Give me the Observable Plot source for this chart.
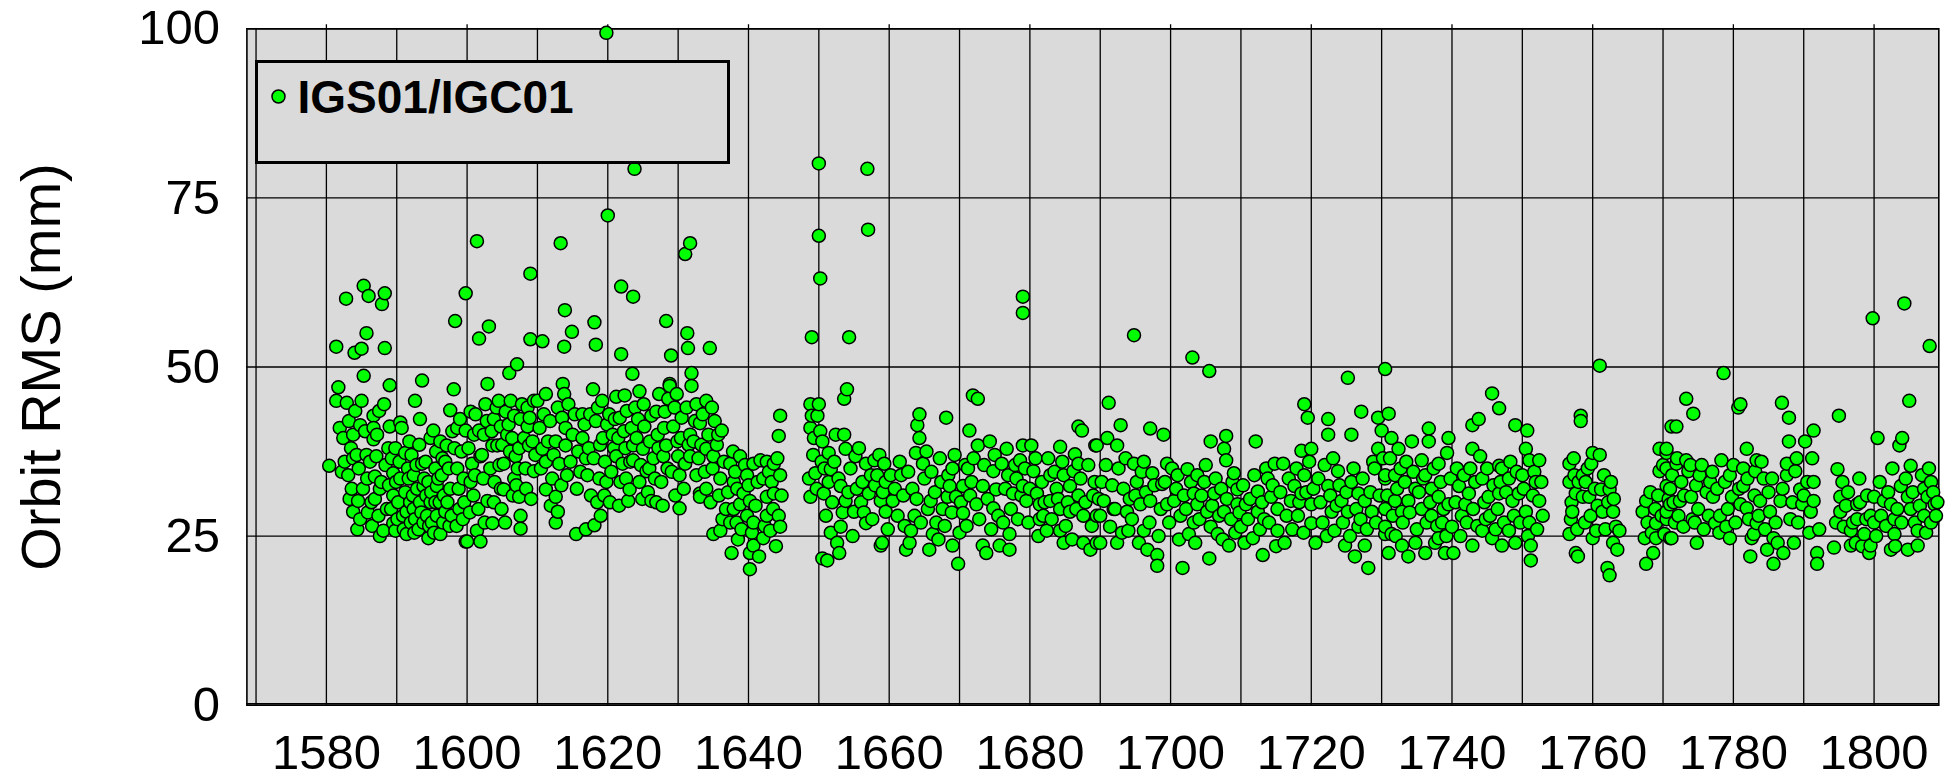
<!DOCTYPE html>
<html>
<head>
<meta charset="utf-8">
<script src="https://cdn.jsdelivr.net/npm/d3@7"></script>
<script src="https://cdn.jsdelivr.net/npm/@observablehq/plot@0.6"></script>
<style>
  html, body { margin: 0; padding: 0; background: #fff; }
  #wrap { position: relative; width: 1955px; height: 780px; }
  #wrap svg { display: block; }
  #legend { position: absolute; left: 255px; top: 60px; width: 475px; height: 104px; box-sizing: border-box;
            border: 3.5px solid #000; background: #dadada; }
  #legend svg { position: absolute; left: 0; top: 0; }
</style>
</head>
<body>
<div id="wrap"></div>
<script>
// ---- tick / grid values ----
const xTicks = [1580, 1600, 1620, 1640, 1660, 1680, 1700, 1720, 1740, 1760, 1780, 1800];
const gridWeeks = [1570, 1580, 1590, 1600, 1610, 1620, 1630, 1640, 1650, 1660, 1670, 1680, 1690, 1700,
                   1710, 1720, 1730, 1740, 1750, 1760, 1770, 1780, 1790, 1800];
const yTicks = [0, 25, 50, 75, 100];
const seriesName = "IGS01/IGC01";
const yLabel = "Orbit RMS (mm)";

// ---- data: [GPS week, orbit RMS (mm)] ----
const rms1580 = [[1580.4,35.4],[1581.4,53],[1581.7,47],[1581.4,45],[1581.9,41],
[1582.8,60.1],[1582.9,44.7],[1582.4,39.5],[1582.6,36],[1582.2,34.5],
[1583.8,40],[1583.8,36.5],[1583.1,34],[1583.3,30.5],[1583.8,28.6],[1584,52.1],
[1585,52.7],[1584.5,30.2],[1584.8,27.5],[1584.8,41.4],[1585,45],[1584.3,37],
[1585.3,62],[1586,60.5],[1585.7,55],[1585.3,48.7],[1585.7,37],[1585.2,32],
[1586.7,42.8],[1586.7,41],[1586.7,39.3],[1586.9,33.8],[1586.4,30],
[1587.9,59.3],[1587.1,36.8],[1587.4,28],[1587.6,25],[1587.6,32],
[1588.3,60.9],[1588.3,52.8],[1589,47.3],[1589,41.2],[1588.6,29],[1588.1,25.8],
[1589.5,34.3],[1589.5,26.9],[1589.8,25.8],[1589.5,31],[1589.8,38],
[1590.7,41],[1591.2,37.3],[1590.5,33.5],[1590.2,30],[1591,26],[1590.5,41.8],
[1592.1,37],[1591.4,25.3],[1591.7,33.5],[1591.9,30],[1591.4,28.6],
[1592.6,45],[1592.4,34],[1592.9,32],[1592.6,27.5],[1592.4,29],
[1593.6,48],[1593.3,42.3],[1593.6,35.7],[1593.8,32.4],[1593.3,30],[1593.8,27],
[1594.5,24.7],[1594.8,39.5],[1594.5,33],[1594.8,30],[1594.3,28],
[1595.2,40.6],[1595.5,35],[1595.7,32.4],[1595.7,28],[1595.5,30],
[1596.2,39],[1596.2,25.3],[1596.9,28.6],[1596.4,34],[1596.7,31],
[1597.1,38.4],[1597.6,43.6],[1597.4,35],[1597.6,32],
[1598.1,46.7],[1598.3,56.8],[1598.6,41],[1598.6,35],[1598.8,32],
[1599.8,60.9],[1599,42.3],[1599.8,40.6],[1599.5,33.5],[1599.8,24.2],
[1600,24.2],[1600.5,43.4],[1601,40],[1600.7,35.7],[1600.5,33],
[1601.4,68.6],[1601.7,54.2],[1601.9,24.2],[1601.4,25.8],[1601.7,40.6],[1601.9,36.8],
[1602.9,47.5],[1602.9,30.2],[1602.4,40],[1602.6,44.5],[1602.1,37],
[1603.1,56],[1603.6,26.9],[1603.8,42.3],[1603.6,38.4],[1603.8,30],
[1604.5,45],[1604.8,41.2],[1604.3,38.4],[1604.8,32],
[1606,49.1],[1605.2,31.9],[1605.5,43.4],[1605.7,40],[1605.2,35.7],
[1606.7,42.8],[1606.4,39.5],[1606.9,36.8],[1606.7,33.5],
[1607.1,50.4],[1607.4,30.8],[1607.6,28],[1607.6,26.1],[1607.6,42.3],[1607.4,38],
[1608.6,41.2],[1608.8,38.4],[1608.3,35],[1608.6,44],
[1609,63.8],[1609,54.1],[1609.5,45],[1609.3,39],[1609.5,34.6],
[1583.2,42],[1584.1,43.5],[1585.5,40.5],[1586.2,36],[1587.2,40],[1587.8,33],[1588.4,35.5],[1588.8,38],[1583.5,38],[1584.6,35],[1585.8,33.5],[1586.9,30.5],[1588.9,32.5],[1589.2,29],[1589.9,33],[1590.4,36],[1590.9,28],[1591.2,31.5],[1591.6,35],[1592,27],[1592.3,31],[1592.8,35.5],[1593.1,26],[1593.5,28.5],[1593.9,33.5],[1594.1,36],[1594.6,26.5],[1594.9,31.5],[1595.3,25.5],[1595.9,33.5],[1596.1,30],[1596.6,27],[1596.9,36],[1597.2,30],[1597.5,26.5],[1597.9,40.5],[1598.2,38],[1598.9,29],[1599.2,37.5],[1599.6,30],[1600.2,38],[1600.9,31],[1601.2,43],[1601.6,29],[1602.3,33.5],[1602.8,42],[1603.3,35],[1603.9,33],[1604.2,44],[1604.6,35.5],[1605,38.5],[1605.9,41.5],[1606.2,45],[1606.5,31],[1607.2,35],[1607.8,44.5],[1608.1,39.5],[1608.9,42.5],[1609.7,37],
[1583.6,32],[1584.4,26],[1585.9,28.5],[1586.5,26.5],[1587.5,43.5],[1588.2,44.5],[1589.3,36.5],[1590.1,27.5],[1591.8,39],[1592.5,25.5],[1593.2,38.5],[1594.2,31],[1595,27],[1595.6,37.5],[1596.5,36.5],[1597.8,28],[1598.5,26.5],[1599.4,27.5],[1600.4,28.5],[1601.1,34],[1602.5,27],[1603.5,40.5],[1604.9,29],[1605.4,27],[1606.1,37.5],[1607,32.5],[1608.4,32],[1609.1,30.5]];

const rms1610 = [[1619.8,99.4],[1623.8,79.3],[1620,72.4],[1613.3,68.3],[1631.7,68.3],[1631,66.7],
[1621.9,61.9],[1623.6,60.4],[1613.9,58.4],[1618.1,56.6],[1614.9,55.2],[1613.8,53],[1618.3,53.3],[1621.9,51.9],[1610.7,53.8],
[1628.3,56.8],[1631.3,55],[1631.4,52.8],[1629,51.7],[1634.5,52.8],
[1623.5,49],[1631.9,49.1],[1631.9,47.2],[1628.8,47.5],
[1610,45],[1611.2,46],[1613.6,47.5],[1613.8,46],[1612.9,44],[1617.9,46.7],[1616.4,43],[1618.6,44],[1618.3,42],[1614,41],[1615,40],[1616.4,39.5],[1619.3,39.5],[1610.7,37.9],[1612.6,39],[1614,38.4],[1613.1,35.7],[1611.2,36],[1612.1,33.5],[1611.2,31.9],[1612.6,30.8],[1612.9,28.6],[1612.6,27],[1617.1,34],[1618.8,33.5],[1619.8,33],[1619.5,31],[1615.5,25.3],[1616.9,26],[1618.1,26.6],[1619,28],
[1621.2,45.6],[1622.4,45.8],[1624.5,46.4],[1621,42.3],[1621.7,42.5],[1624.3,42.3],[1620.7,40],[1623.6,38.4],[1625.2,41.2],[1626,39],[1626.2,42.8],[1626.9,43.4],[1627.1,40],[1621.2,36.8],[1622.1,35.7],[1623.6,36.2],[1625,37.9],[1622.6,33.5],[1623.1,31.9],[1622.9,30.2],[1625.5,34.6],[1626.2,30.2],[1626.9,30],[1624.5,33],[1627.9,36.8],[1628.3,38.4],[1628.6,45.3],[1628.1,43.4],[1628.8,47.2],[1629.8,46],[1629.3,41.2],[1630,36.8],[1630.2,34],[1630.2,29.1],
[1632.6,44.5],[1634,45],[1634.8,44],[1635.2,42],[1636.2,40.6],[1633.1,41.7],[1631.7,40],[1631,35.7],[1631.7,36.8],[1632.6,34],[1634,37.9],[1635,36.8],[1636,33.5],[1633.1,31.3],[1633.1,30.8],[1634,32],[1637.4,35.7],[1638.8,36.8],[1637.9,33],[1639.8,34],[1639.3,31.3],[1640.7,35.7],[1641.7,36.2],[1642.6,36],[1643.6,35.7],[1644.5,34],[1642.1,33.5],[1643.3,33],[1635,25.3],[1636,25.8],[1637.4,27],[1638.3,27],[1639.8,28],[1640.7,27],[1642.6,28],[1644.3,28],[1637.9,29],[1638.8,29.7],[1640.2,30.2],[1642.6,30.8],[1643.6,31.3],[1637.6,22.5],[1640.2,22.5],[1640.7,23.6],[1640.2,20.1],[1642.1,24.7],[1643.1,25.8],[1644.5,26.4],[1644.5,42.8],[1644.3,39.8],
[1648.8,44.5],[1649,42.8],[1648.8,41],[1649.3,39.5],[1648.6,33.5],[1649.5,34.3],[1648.8,30.8],[1649,54.4],[1650,80.1],[1650,69.4],[1650.2,63.1],
[1610.3,41],[1610.9,43],[1611.5,39],[1611.8,42],[1612.3,37],[1613.5,42.5],[1614.4,44.5],[1614.7,36],[1615.3,43],[1615.8,37.5],[1616.1,34.5],[1616.7,41.5],[1617.3,38],[1617.6,31],[1618,36.5],[1618.9,38.5],[1619.2,45],[1619.6,36],[1620.2,43],[1620.5,34.5],[1620.9,38],[1621.5,39.5],[1621.8,33],[1622.3,40.5],[1622.7,43.5],[1623.2,36],[1623.9,44],[1624.1,39.5],[1624.7,35.5],[1625.1,44.5],[1625.7,31.5],[1626.5,36.5],[1627.3,46],[1627.6,33],[1628,41],[1629.1,34.5],[1629.5,44],[1629.9,39],[1630.5,42.5],[1630.8,32],[1631.2,44],[1631.5,38.5],[1632.2,39],[1632.9,36.5],[1633.5,43],[1633.8,34.5],[1634.3,40],[1634.6,30],[1635.5,38.5],[1635.8,31],[1636.5,36],[1636.8,29],[1637.1,31.5],[1637.8,37.5],[1638.1,34.5],[1638.5,24.5],[1639,26],[1639.5,35.5],[1640,32.5],[1640.5,25.5],[1641,29.5],[1641.3,33],[1641.5,22],[1642.3,26.5],[1642.9,34.5],[1643.5,29],[1643.9,23.5],[1644.1,36.5],[1644.7,31],[1649.2,37],[1649.7,32],[1650.2,40.5],[1650.4,36],
[1610.5,35],[1611.9,29.5],[1613.4,32.5],[1614.2,34],[1615.6,32],[1616.9,36.5],[1617.5,43],[1618.5,30],[1619.9,41.5],[1620.3,30],[1621.6,29.5],[1622.5,38],[1623.4,41],[1624.9,30.5],[1625.9,35],[1626.7,33.5],[1627.2,38],[1627.8,29.5],[1628.5,35],[1629.6,31],[1630.4,39.5],[1632.4,42],[1633.3,38.5],[1634.9,35],[1635.7,40],[1636.3,27.5],[1638.4,32]];

const rms1650 = [[1656.9,79.3],[1657,70.3],[1654.3,54.4],[1679,60.4],[1679,58],
[1654,46.7],[1653.6,45.3],[1650,44.5],[1649.8,42.8],[1652.4,40],[1653.6,40],[1664.3,43],[1664,41.4],[1664.3,39.5],[1668.1,42.5],[1671.9,45.8],[1672.6,45.3],[1671.4,40.6],[1672.6,38.4],[1674.3,39],[1680.2,38.4],[1684.3,38.2],[1686.9,41.2],[1687.4,40.6],[1689.3,38.4],
[1650.5,39],[1651.4,37.3],[1653.8,37.9],[1655.2,36.8],[1651.7,34.9],[1651.4,33],[1650.7,31.3],[1653.1,32.4],[1653.8,30.2],[1655,28.6],[1656.7,26.9],[1653.1,26.4],[1651.7,25.5],[1652.6,24],[1652.9,22.5],[1651.2,21.4],[1650.5,21.7],[1656.7,35.7],[1657.9,36.2],[1659.3,35.7],[1659.5,33],[1658.3,34],[1656.2,33],[1657.1,31.3],[1658.8,30.2],[1660.5,30.2],[1659.5,28.6],[1659,24],[1658.8,23.6],[1660.2,34],
[1661.7,34],[1663.3,32],[1663.8,37.3],[1664.8,35.7],[1665,33.5],[1663.6,28],[1663.1,25.8],[1662.4,23],[1662.9,24],[1665.9,30.2],[1666.2,25.3],[1665.7,23],[1667.4,33],[1667.6,29],[1669,35],[1668.6,32.4],[1669,23.6],[1669.8,20.9],[1670,25.5],[1670.5,28.4],[1668.3,30.8],[1666.7,27],[1669.5,30.8],[1671.2,35],[1670.5,32.4],
[1671.7,33],[1672.4,29.7],[1673.3,32.4],[1673.3,23.6],[1673.8,22.5],[1674.8,34.6],[1675.2,31.9],[1676,35.7],[1676.7,37.9],[1676.9,34],[1677.6,31.3],[1676.2,27],[1677.1,25.3],[1675.7,23.6],[1677.1,23],[1678.6,36.2],[1679,32.4],[1679,38.4],[1680.5,34.6],[1681,31.3],[1681.4,29.7],[1679.5,30.2],[1678.1,33.5],[1674.8,29.1],
[1681.9,28],[1682.9,34],[1683.8,32],[1684.3,25.8],[1684.8,24],[1682.9,30.2],[1685.7,32.4],[1686.2,34.6],[1686.4,37.1],[1686.9,31],[1687.6,28],[1687.6,24],[1688.6,23],[1689,31],[1689.5,28],[1690,24],[1685.7,28.6],[1684.8,34],[1686.9,35.7],[1684.3,29],[1681.4,27.5],[1682.4,25.8],
[1650.8,35],[1651,28],[1651.9,30],[1652.2,36],[1652.8,33.5],[1653.4,28.5],[1654.2,31.5],[1654.5,35],[1654.8,25],[1655.4,32],[1655.7,38],[1656,30],[1656.4,28.5],[1657.4,34],[1657.6,27.5],[1658,32.5],[1658.6,37],[1659.1,31.5],[1659.8,26],[1660.8,32],[1661.2,28],[1661.5,36],[1662,31],[1662.2,26.5],[1662.7,34.5],[1663.9,30.5],[1664.5,27],[1665.3,37.5],[1665.5,29],[1666,34.5],[1666.5,31.5],[1667,24.5],[1667.2,36.5],[1667.9,26.5],[1668.4,34],[1668.9,28.5],[1669.3,37],[1670.2,30],[1670.8,35.5],[1671,26.5],[1671.5,31],[1672,36.5],[1672.8,27.5],[1673.5,35.5],[1674,30.5],[1674.5,26],[1675,37],[1675.5,28],[1676.5,32],[1677.3,29],[1677.9,35.5],[1678.3,27.5],[1678.8,31],[1679.3,35],[1679.8,27],[1680,32],[1680.8,36.5],[1681.2,25],[1681.7,33],[1682.1,30],[1682.6,36.5],[1683.1,27.5],[1683.5,34.5],[1684,30.5],[1684.6,36],[1685.1,26.5],[1685.4,30],[1686,24.5],[1686.6,29],[1687.2,33.5],[1687.9,30],[1688.3,35.5],[1688.8,26.5],[1689.2,33],[1689.8,30.5]];

const rms1690 = [[1694.8,54.7],[1703.1,51.4],[1705.5,49.4],[1725.2,48.4],[1730.5,49.7],
[1691.2,44.7],[1692.9,41.4],[1691,39.5],[1692.4,38.4],[1697.1,40.9],[1699,40],[1689.5,38.4],[1705.7,39],[1707.9,39.8],[1707.6,37.9],[1707.9,36.2],[1712.1,39],[1719,44.5],[1719.5,42.5],[1722.4,42.3],[1727.1,43.4],[1725.7,40],[1722.4,40],[1718.6,37.6],[1720,37.9],[1729.5,42.5],[1730,40.6],
[1694.8,35.7],[1696.2,36],[1693.3,32],[1695.2,33],[1697.4,34.3],[1698.8,32.7],[1699.5,35.7],[1690.5,30.2],[1692.1,29],[1693.8,28.6],[1695.7,29.7],[1697.1,30.2],[1690,28],[1691.4,26.4],[1692.4,24],[1694,25.8],[1696.2,25.8],[1696.7,23],[1698.1,22.2],[1698.1,20.6],[1698.6,29],[1699.5,29.7],[1689.5,24],
[1700.5,30.2],[1701.4,28],[1701.7,20.3],[1701,34],[1702.4,34.9],[1703.8,34],[1703.3,31.3],[1704.8,33],[1703.8,29.7],[1705.2,28.6],[1705.7,26.4],[1705.5,21.7],[1703.3,27],[1702.6,25.3],[1706.2,31.3],[1706.7,25.3],[1708.3,23.6],[1709,34.3],[1709.5,31.9],[1709.5,29.7],[1708.6,27.5],[1710,26.4],[1707.6,28.6],
[1712.4,31.6],[1711.7,24.7],[1713.1,22.2],[1713.8,33.5],[1714.8,35.7],[1716,35.7],[1714.3,30.8],[1715.2,29],[1713.3,27.5],[1715.2,25.8],[1716.2,24],[1717.1,30.2],[1717.6,32.4],[1718.1,28],[1719,34],[1720,29.7],[1720,26.9],[1718.6,31.3],[1712.4,28.6],[1710.7,29.7],
[1721,33.5],[1722.4,32.4],[1723.8,34.6],[1722.9,28.6],[1723.3,25.8],[1724.8,23.6],[1726.2,22],[1728.1,20.3],[1725.7,33],[1726.7,31.3],[1727.6,30.2],[1728.6,28.6],[1725.2,28.6],[1726.7,26.4],[1727.6,23.6],[1729,35],[1729.5,37.9],[1730.5,33.5],[1730.5,29],[1730.5,25.3],[1724.3,30.2],
[1690.2,33],[1690.8,35.5],[1691.7,32.5],[1691.9,29],[1692.6,35],[1693.1,25.5],[1693.6,36.5],[1694.2,30.5],[1694.5,27.5],[1695,31],[1695.5,24],[1695.9,34.5],[1696.5,31.5],[1697,27],[1697.7,32.5],[1698.3,25],[1699.2,33],[1699.8,27],[1700.2,35],[1700.8,32],[1701.2,24.5],[1701.9,31],[1702.2,29],[1702.9,33],[1703.5,24],[1704.1,27.5],[1704.4,31],[1705,35.5],[1705.9,29.5],[1706.4,33.5],[1706.9,28],[1707.2,32],[1707.4,24.5],[1708,30.5],[1708.8,33],[1709.2,25.5],[1709.8,28.5],[1710.3,32.5],[1710.5,24],[1711,27.5],[1711.3,30.5],[1711.9,34],[1712.7,26],[1713,30],[1713.6,35],[1714,27],[1714.5,32.5],[1715,23.5],[1715.6,31.5],[1716.5,28],[1716.8,33.5],[1717.3,26],[1717.9,35],[1718.3,30],[1718.9,25.5],[1719.3,31.5],[1719.7,36],[1720.3,32],[1720.6,24],[1721.3,30],[1721.6,27],[1721.9,35.5],[1722.2,25],[1722.7,31],[1723.1,36.5],[1723.6,29.5],[1724,32.5],[1724.5,27],[1725,31.5],[1725.5,25],[1726,35],[1726.4,29],[1727,27.5],[1727.3,33.5],[1727.9,26],[1728.4,31.5],[1728.8,36],[1729.2,27],[1729.7,31],[1730.2,36.5]];

const rms1730 = [[1761,50.2],[1745.7,46.1],[1746.7,43.9],[1758.3,42.8],[1758.3,42],[1731,43.1],[1736.7,40.9],[1742.9,41.4],[1743.8,42.3],[1749,41.4],[1750.7,40.6],[1771.2,41.2],
[1731.4,39.5],[1732.4,37.9],[1734.3,39],[1736.7,39],[1735.7,36.2],[1739.5,39.5],[1739.3,37.3],[1738.1,35.7],[1730.5,34],[1731.9,34],[1733.3,33],[1734.8,32],[1736.2,34],[1737.1,32],[1738.1,30.8],[1731.9,30.2],[1732.9,28.6],[1733.8,30.2],[1735.7,29],[1737.1,28],[1738.6,27],[1730.5,26.4],[1731.4,25.3],[1732.9,23.6],[1734.8,24],[1736.2,22.5],[1738.1,24.7],[1739,22.5],[1731,22.5],[1733.8,22],[1739.5,29.7],
[1740.2,22.5],[1741,32.4],[1742.4,31.3],[1741.4,28],[1742.9,37.9],[1744,36.8],[1744.3,33.5],[1745.2,30.8],[1744.8,27.5],[1745.7,24.7],[1746.7,35.4],[1747.1,35],[1746.7,31.3],[1748.1,33.5],[1748.6,30.2],[1747.1,23.6],[1748.1,25.8],[1749,24],[1749.5,31.3],[1750,34],[1750.5,37.9],[1751,36.2],[1750.5,28.6],[1751,27],[1751.2,23.6],[1751.2,21.4],[1752.4,36.2],[1751.9,33],[1752.4,30.2],[1752.9,28],[1742.9,23.6],[1744.3,25.8],[1740,26.4],[1741.9,29.7],[1743.3,33],
[1756.7,35.7],[1757.4,34],[1756.7,33],[1757.6,31.3],[1757.1,28.6],[1756.9,27.5],[1756.7,25.3],[1757.6,22.5],[1757.9,22],[1759,33],[1758.6,30.8],[1759.5,30.8],[1759.8,35.7],[1760,37.3],[1761,37],[1760.5,25.8],[1760,24.7],[1761.2,31.9],[1762.4,31.9],[1761.4,28.6],[1762.9,28.6],[1763.3,26.4],[1762.9,24],[1762.1,20.3],[1762.4,19.2],[1763.8,25.8],[1758.6,34],
[1767.1,28.6],[1767.6,30.2],[1767.4,24.7],[1767.6,20.9],[1768.6,22.5],[1769,24.7],[1769,26.9],[1769.5,37.9],[1770.5,37.3],[1769.5,34.6],[1770.5,32.4],[1771,29.7],[1770.5,27.5],[1770.2,25.3],[1771.2,24.7],
[1730.8,31],[1731.2,36.5],[1731.6,28],[1732,25],[1732.2,32],[1732.7,35],[1733,27],[1733.5,36],[1734,28.5],[1734.5,34.5],[1735,26],[1735.3,31.5],[1735.9,33.5],[1736.4,27],[1736.9,30],[1737.4,35],[1737.6,24],[1737.9,26.5],[1738.4,33],[1738.8,29],[1739.2,25],[1739.8,33.5],[1740.5,30],[1740.7,35],[1741.2,25],[1741.7,34],[1742.1,27],[1742.6,35],[1743,29],[1743.6,26.5],[1744.6,30],[1745,35],[1745.4,28],[1745.9,32.5],[1746.2,26],[1746.5,29],[1746.9,33],[1747.4,27],[1747.7,31.5],[1748.3,36],[1748.8,28],[1749.2,34.5],[1749.7,27],[1750.2,32],[1750.8,25],[1751.5,31],[1751.7,34.5],[1752.1,26],[1752.7,33],[1757,30],[1757.3,36.5],[1757.8,26],[1758,33],[1758.9,27],[1759.3,35],[1759.7,28],[1760.3,32],[1760.7,29.5],[1761.6,34],[1761.8,26],[1762.2,30],[1762.6,33],[1763,30.5],[1763.5,23],[1767.8,27],[1768.2,31.5],[1768.4,25.5],[1768.9,29],[1769.3,31],[1769.8,28],[1770,35.5],[1770.8,30.5]];

const rms1770 = [[1799.8,57.2],[1804.3,59.4],[1807.9,53.1],[1778.6,49.1],[1773.3,45.3],[1774.3,43.1],[1771.9,41.2],[1781,44.5],[1780.7,44],[1786.9,44.7],[1787.9,42.5],[1787.9,39],[1791.4,40.6],[1790.2,39],[1791.2,36.5],[1795,42.8],[1800.5,39.5],[1805,45],[1804,39.5],[1803.6,38.4],[1805.2,35.4],[1794.8,34.9],[1797.9,33.5],
[1770.5,37.9],[1770.5,35],[1771.9,35.7],[1773.3,36.2],[1773.6,34.6],[1775.2,34],[1778.3,36.2],[1776.7,33],[1779.5,34],[1781.4,35],[1781.9,37.9],[1783.3,36.2],[1783.1,34.6],[1784.3,33.5],[1771,32],[1772.4,30.2],[1774,30.8],[1770.5,28.6],[1771.7,27],[1772.9,26.4],[1771,24.7],[1774.5,27],[1774.8,24],[1777.1,30.8],[1778.1,28],[1779,26.4],[1779.5,24.7],[1779.8,30.8],[1781,29.7],[1781.4,32.4],[1781.9,29.1],[1777.4,26.9],
[1782.4,22],[1782.6,24.7],[1783.3,26.9],[1782.9,25.3],[1783.8,30.2],[1784.8,23],[1785.7,20.9],[1785.2,28.6],[1785.7,24.7],[1786.7,30.2],[1787.1,22.5],[1787.6,34],[1788.1,27.5],[1788.8,34.6],[1789.5,31.9],[1789.8,29.7],[1790.5,33],[1791.4,33],[1791.4,30.2],[1791,28.6],[1787.6,35.7],
[1791.9,22.5],[1791.9,20.9],[1794.3,23.3],[1795.2,30.8],[1795.2,28.6],[1795.7,26.4],[1796.7,23.6],[1797.6,29.7],[1797.6,27.5],[1798.6,25.3],[1799.5,28],[1799.5,23.6],[1799.3,22.5],[1800,30.8],[1800,27],[1796.7,25.8],[1797.4,24],
[1801.4,30.2],[1802.4,29.7],[1802.9,27.5],[1803.3,29],[1802.9,25.3],[1802.4,23],[1803.8,32.4],[1804.8,30.8],[1805.2,29],[1806.2,23.6],[1804.8,23],[1806.2,25.8],[1807.1,32],[1807.6,30.8],[1808.1,33],[1808.6,29.7],[1808.8,28],[1808.1,27],[1807.1,28],
[1771.3,34],[1771.5,30],[1772,36.5],[1772.2,28],[1772.6,33],[1773,31],[1773.9,35.5],[1774.2,27.5],[1774.7,32.5],[1775,29],[1775.5,35.5],[1775.8,26],[1776.2,31.5],[1776.5,28],[1777,34.5],[1777.7,32],[1778,25.5],[1778.8,33],[1779.2,29],[1780,35.5],[1780.3,27],[1780.8,32],[1782,33.5],[1782.2,27.5],[1783,31],[1783.6,28],[1784,36],[1784.5,26],[1785,31.5],[1785.5,33.5],[1786,27],[1786.3,24],[1787,32],[1788.4,30],[1788.6,24],[1789,36.5],[1789.2,27],[1790,31],[1790.8,25.5],[1792.2,26],[1794.6,27],[1795.5,33],[1796,29.5],[1796.3,31.5],[1797,27],[1798,30],[1798.3,23.5],[1798.9,27.5],[1799,31],[1800.3,25],[1800.8,33],[1801,28],[1801.7,26.5],[1802,31.5],[1802.6,35],[1803,23.5],[1803.9,27],[1804.5,33.5],[1805.5,31.5],[1805.8,27],[1806.5,29.5],[1806.8,34],[1807.4,25.5],[1807.8,35],[1808.4,31.5],[1809,30]];

const points = [...rms1580, ...rms1610, ...rms1650, ...rms1690, ...rms1730, ...rms1770]
  .map(([week, rms]) => ({week, rms}))
  .sort((a, b) => a.week - b.week);

const FONT = "'Liberation Sans', Arial, Helvetica, sans-serif";
const BG = "#dadada";

const chart = Plot.plot({
  width: 1955,
  height: 780,
  marginLeft: 246.4,
  marginRight: 16.7,
  marginTop: 28.3,
  marginBottom: 75.3,
  style: {fontFamily: FONT, fontSize: "49px", color: "#000", background: "#fff", overflow: "visible"},
  x: {domain: [1568.7, 1809.2], ticks: xTicks, tickSize: 0, tickPadding: 29, tickFormat: d => String(d), label: null},
  y: {domain: [0, 100], ticks: yTicks, tickSize: 0, tickPadding: 27, tickFormat: d => String(d), label: null},
  marks: [
    Plot.frame({fill: BG, stroke: null}),
    Plot.ruleX(gridWeeks, {y1: 0, y2: 100, stroke: "#000", strokeWidth: 1.3}),
    Plot.ruleX(xTicks, {y1: 100, y2: 100.6, stroke: "#000", strokeWidth: 1.3}),
    Plot.ruleY(yTicks, {stroke: "#000", strokeWidth: 1.3}),
    Plot.ruleY([0], {stroke: "#000", strokeWidth: 1.3, dy: -1.5}),
    Plot.frame({stroke: "#000", strokeWidth: 1.6}),
    Plot.dot(points, {x: "week", y: "rms", r: 6.5, fill: "#00ff00", stroke: "#000", strokeWidth: 1.5}),
    Plot.text([yLabel], {frameAnchor: "left", dx: 42 - 246.4, dy: 0, rotate: -90,
                         fontSize: 56, fill: "#000", textAnchor: "middle"})
  ]
});

const wrap = document.getElementById("wrap");
wrap.appendChild(chart);

// legend inside the plot area
const legend = document.createElement("div");
legend.id = "legend";
legend.innerHTML =
  `<svg width="468" height="97" xmlns="http://www.w3.org/2000/svg">
     <circle cx="20.5" cy="33.5" r="6.5" fill="#00ff00" stroke="#000" stroke-width="1.5"></circle>
     <text x="39.5" y="49.5" font-family="${FONT}" font-weight="bold" font-size="46px" fill="#000">${seriesName}</text>
   </svg>`;
wrap.appendChild(legend);
</script>
</body>
</html>
